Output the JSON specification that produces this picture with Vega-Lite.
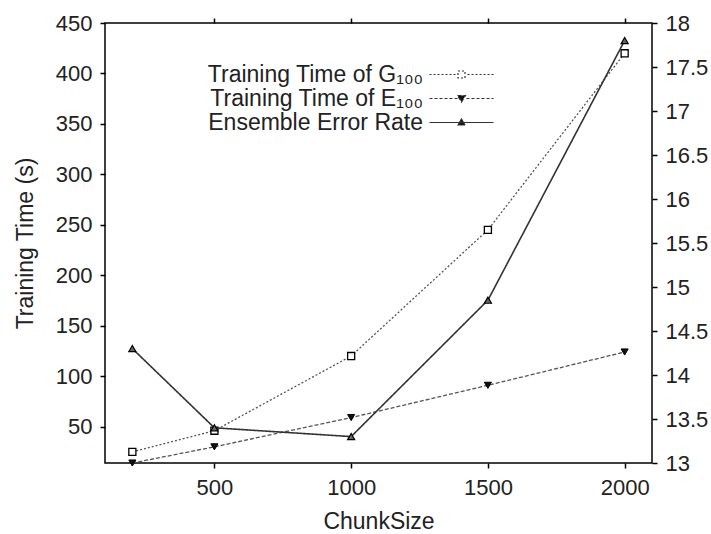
{
  "$schema": "https://vega.github.io/schema/vega-lite/v6.json",
  "width": 547,
  "height": 440,
  "autosize": "none",
  "padding": {"left": 105, "top": 23, "right": 59, "bottom": 71},
  "background": "white",
  "config": {
    "view": {"stroke": "black", "strokeWidth": 1.5},
    "font": "Liberation Sans",
    "axis": {
      "domain": false,
      "grid": false,
      "ticks": true,
      "tickSize": 5,
      "tickColor": "black",
      "tickWidth": 1.5,
      "labelFontSize": 22,
      "labelColor": "#222",
      "labelFont": "Liberation Sans",
      "titleFont": "Liberation Sans",
      "titleFontSize": 23,
      "titleFontWeight": "normal",
      "titleColor": "#222"
    }
  },
  "data": {
    "values": [
      {"ChunkSize": 200, "series": "Training Time of G₁₀₀", "value": 25},
      {"ChunkSize": 500, "series": "Training Time of G₁₀₀", "value": 46},
      {"ChunkSize": 1000, "series": "Training Time of G₁₀₀", "value": 120},
      {"ChunkSize": 1500, "series": "Training Time of G₁₀₀", "value": 245},
      {"ChunkSize": 2000, "series": "Training Time of G₁₀₀", "value": 420},
      {"ChunkSize": 200, "series": "Training Time of E₁₀₀", "value": 14},
      {"ChunkSize": 500, "series": "Training Time of E₁₀₀", "value": 30},
      {"ChunkSize": 1000, "series": "Training Time of E₁₀₀", "value": 59},
      {"ChunkSize": 1500, "series": "Training Time of E₁₀₀", "value": 91},
      {"ChunkSize": 2000, "series": "Training Time of E₁₀₀", "value": 124},
      {"ChunkSize": 200, "series": "Ensemble Error Rate", "value": 14.3},
      {"ChunkSize": 500, "series": "Ensemble Error Rate", "value": 13.4},
      {"ChunkSize": 1000, "series": "Ensemble Error Rate", "value": 13.3},
      {"ChunkSize": 1500, "series": "Ensemble Error Rate", "value": 14.85},
      {"ChunkSize": 2000, "series": "Ensemble Error Rate", "value": 17.8}
    ]
  },
  "layer": [
    {
      "transform": [{"filter": "datum.series !== 'Ensemble Error Rate'"}],
      "encoding": {
        "x": {
          "field": "ChunkSize", "type": "quantitative",
          "scale": {"domain": [100, 2100], "nice": false, "zero": false},
          "axis": {"orient": "bottom", "values": [500, 1000, 1500, 2000], "format": "d", "title": "ChunkSize", "labelPadding": 9, "titlePadding": 12}
        },
        "y": {
          "field": "value", "type": "quantitative",
          "scale": {"domain": [14, 450], "nice": false, "zero": false},
          "axis": {"orient": "left", "values": [50, 100, 150, 200, 250, 300, 350, 400, 450], "format": "d", "title": "Training Time (s)", "labelPadding": 8, "titlePadding": 18}
        }
      },
      "layer": [
        {
          "mark": {"type": "line", "stroke": "#555", "strokeWidth": 1.3},
          "encoding": {
            "strokeDash": {
              "field": "series", "type": "nominal",
              "scale": {
                "domain": ["Training Time of G₁₀₀", "Training Time of E₁₀₀", "Ensemble Error Rate"],
                "range": [[2, 2], [4, 2], [1, 0]]
              },
              "legend": {
                "orient": "none",
                "legendX": 345,
                "legendY": 40,
                "title": null,
                "padding": 0,
                "symbolSize": 100,
                "symbolStrokeWidth": 1.2,
                "symbolStrokeColor": "#333",
                "labelAlign": "right",
                "labelOffset": -50,
                "labelFontSize": 23,
                "labelFont": "Liberation Sans",
                "labelColor": "#222",
                "labelLimit": 400,
                "rowPadding": 0,
                "encode": {
                  "symbols": {
                    "update": {
                      "shape": {"signal": "datum.value === 'Ensemble Error Rate' ? 'M-6.4,0H6.4M-0.7,0.5L0.7,0.5L0,-0.7Z' : (datum.value === 'Training Time of E₁₀₀' ? 'M-6.4,0h0.6M-5.4,0h0.6M-4.4,0h0.6M-3.4,0h0.6M-2.4,0h0.6M-1.4,0h0.6M1,0h0.6M2,0h0.6M3,0h0.6M4,0h0.6M5,0h0.6M6,0h0.4M-0.8,-0.6L0.8,-0.6L0,0.7Z' : 'M-6.4,0h0.4M-5.6,0h0.4M-4.8,0h0.4M-4,0h0.4M-3.2,0h0.4M-2.4,0h0.4M-1.6,0h0.4M1.2,0h0.4M2,0h0.4M2.8,0h0.4M3.6,0h0.4M4.4,0h0.4M5.2,0h0.4M6,0h0.4M-0.7,-0.7h1.4v1.4h-1.4Z')"},
                      "fill": {"signal": "datum.value === 'Training Time of G₁₀₀' ? 'white' : '#111'"},
                      "stroke": {"value": "#333"},
                      "strokeDash": {"value": [1, 0]},
                      "strokeWidth": {"value": 1.2},
                      "opacity": {"value": 1}
                    }
                  }
                }
              }
            }
          }
        },
        {
          "transform": [{"filter": "datum.series === 'Training Time of G₁₀₀'"}],
          "mark": {"type": "point", "shape": "square", "filled": true, "fill": "white", "size": 50, "stroke": "black", "strokeWidth": 1.3, "opacity": 1}
        },
        {
          "transform": [{"filter": "datum.series === 'Training Time of E₁₀₀'"}],
          "mark": {"type": "point", "shape": "triangle-down", "filled": true, "fill": "#111", "size": 50, "stroke": "black", "strokeWidth": 1, "opacity": 1}
        }
      ]
    },
    {
      "transform": [{"filter": "datum.series === 'Ensemble Error Rate'"}],
      "encoding": {
        "x": {
          "field": "ChunkSize", "type": "quantitative",
          "scale": {"domain": [100, 2100], "nice": false, "zero": false},
          "axis": {"orient": "top", "values": [500, 1000, 1500, 2000], "title": null, "labels": false}
        },
        "y": {
          "field": "value", "type": "quantitative",
          "scale": {"domain": [13, 18], "nice": false, "zero": false},
          "axis": {"orient": "right", "values": [13, 13.5, 14, 14.5, 15, 15.5, 16, 16.5, 17, 17.5, 18], "format": "~g", "title": null, "labelPadding": 8}
        }
      },
      "layer": [
        {
          "mark": {"type": "line", "stroke": "#333", "strokeWidth": 1.6},
          "encoding": {
            "strokeDash": {
              "field": "series", "type": "nominal",
              "scale": {
                "domain": ["Training Time of G₁₀₀", "Training Time of E₁₀₀", "Ensemble Error Rate"],
                "range": [[2, 2], [4, 2], [1, 0]]
              }
            }
          }
        },
        {
          "mark": {"type": "point", "shape": "triangle-up", "filled": true, "fill": "#666", "size": 50, "stroke": "black", "strokeWidth": 1.2, "opacity": 1}
        }
      ]
    }
  ],
  "resolve": {"scale": {"y": "independent"}, "axis": {"x": "independent", "y": "independent"}}
}
